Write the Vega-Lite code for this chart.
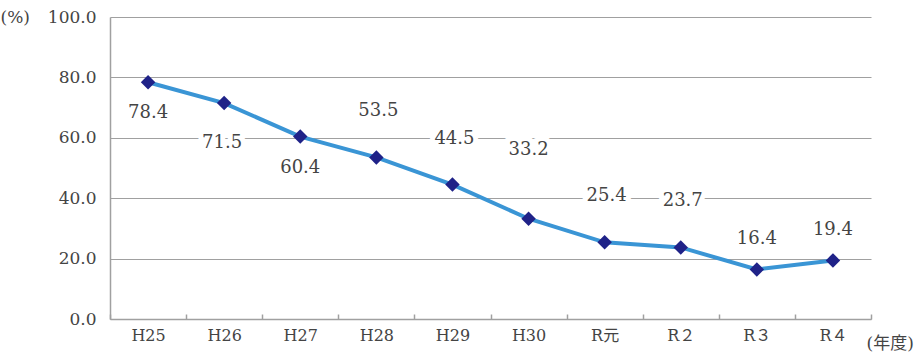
{
  "$schema": "https://vega.github.io/schema/vega-lite/v6.json",
  "width": 761,
  "height": 302,
  "autosize": {"type": "none"},
  "padding": {"left": 110, "top": 17, "right": 48, "bottom": 42},
  "background": "white",
  "config": {
    "view": {"stroke": null},
    "font": "'DejaVu Serif', 'Noto Sans CJK JP'",
    "text": {"font": "'DejaVu Serif', 'Noto Sans CJK JP'"}
  },
  "data": {
    "values": [
      {"year": "H25", "rate": 78.4, "place": "below"},
      {"year": "H26", "rate": 71.5, "place": "below2"},
      {"year": "H27", "rate": 60.4, "place": "below"},
      {"year": "H28", "rate": 53.5, "place": "above"},
      {"year": "H29", "rate": 44.5, "place": "above"},
      {"year": "H30", "rate": 33.2, "place": "above2"},
      {"year": "R元", "rate": 25.4, "place": "above"},
      {"year": "R２", "rate": 23.7, "place": "above"},
      {"year": "R３", "rate": 16.4, "place": "above3"},
      {"year": "R４", "rate": 19.4, "place": "above3"}
    ]
  },
  "encoding": {
    "x": {
      "field": "year", "type": "nominal",
      "sort": ["H25", "H26", "H27", "H28", "H29", "H30", "R元", "R２", "R３", "R４"],
      "scale": {"paddingInner": 0, "paddingOuter": 0},
      "axis": {
        "title": "(年度)", "titleFont": "'DejaVu Serif', 'Noto Sans CJK JP'", "titleFontSize": 17, "titleFontWeight": "normal",
        "titleColor": "#444", "titleAlign": "left", "titleBaseline": "middle", "titleAnchor": null,
        "titleX": 756, "titleY": 24,
        "labelAngle": 0, "labelFontSize": 16, "labelColor": "#444", "labelPadding": 13,
        "labelFont": "'DejaVu Serif', 'Noto Sans CJK JP'",
        "domainColor": "#a0a0a0", "domainWidth": 1.5,
        "tickBand": "extent", "tickSize": -5, "tickColor": "#a0a0a0", "tickWidth": 1.5,
        "grid": false
      }
    },
    "y": {
      "field": "rate", "type": "quantitative",
      "scale": {"domain": [0, 100], "nice": false},
      "axis": {
        "values": [0, 20, 40, 60, 80, 100], "format": ".1f",
        "title": "(%)", "titleAngle": 0, "titleAlign": "left", "titleBaseline": "middle",
        "titleX": -110, "titleY": 0, "titleFontSize": 17, "titleFontWeight": "normal", "titleColor": "#444",
        "titleFont": "'DejaVu Serif', 'Noto Sans CJK JP'",
        "labelFontSize": 17, "labelColor": "#444", "labelPadding": 14,
        "labelFont": "'DejaVu Serif'",
        "ticks": false, "domainColor": "#a0a0a0", "domainWidth": 1.5,
        "grid": true, "gridColor": "#a0a0a0", "gridWidth": 1.2
      }
    }
  },
  "layer": [
    {"transform": [{"filter": "datum.place == 'below'"}], "mark": {"type": "text", "dy": 31, "fontSize": 18, "stroke": "white", "strokeWidth": 10, "fill": "white"}, "encoding": {"text": {"field": "rate", "format": ".1f"}}},
    {"transform": [{"filter": "datum.place == 'below'"}], "mark": {"type": "text", "dy": 31, "fontSize": 18, "fill": "#444"}, "encoding": {"text": {"field": "rate", "format": ".1f"}}},
    {"transform": [{"filter": "datum.place == 'below2'"}], "mark": {"type": "text", "dy": 40, "dx": -2, "fontSize": 18, "stroke": "white", "strokeWidth": 10, "fill": "white"}, "encoding": {"text": {"field": "rate", "format": ".1f"}}},
    {"transform": [{"filter": "datum.place == 'below2'"}], "mark": {"type": "text", "dy": 40, "dx": -2, "fontSize": 18, "fill": "#444"}, "encoding": {"text": {"field": "rate", "format": ".1f"}}},
    {"transform": [{"filter": "datum.place == 'above'"}], "mark": {"type": "text", "dy": -46, "dx": 2, "fontSize": 18, "stroke": "white", "strokeWidth": 10, "fill": "white"}, "encoding": {"text": {"field": "rate", "format": ".1f"}}},
    {"transform": [{"filter": "datum.place == 'above'"}], "mark": {"type": "text", "dy": -46, "dx": 2, "fontSize": 18, "fill": "#444"}, "encoding": {"text": {"field": "rate", "format": ".1f"}}},
    {"transform": [{"filter": "datum.place == 'above2'"}], "mark": {"type": "text", "dy": -69, "fontSize": 18, "stroke": "white", "strokeWidth": 10, "fill": "white"}, "encoding": {"text": {"field": "rate", "format": ".1f"}}},
    {"transform": [{"filter": "datum.place == 'above2'"}], "mark": {"type": "text", "dy": -69, "fontSize": 18, "fill": "#444"}, "encoding": {"text": {"field": "rate", "format": ".1f"}}},
    {"transform": [{"filter": "datum.place == 'above3'"}], "mark": {"type": "text", "dy": -30, "fontSize": 18, "stroke": "white", "strokeWidth": 10, "fill": "white"}, "encoding": {"text": {"field": "rate", "format": ".1f"}}},
    {"transform": [{"filter": "datum.place == 'above3'"}], "mark": {"type": "text", "dy": -30, "fontSize": 18, "fill": "#444"}, "encoding": {"text": {"field": "rate", "format": ".1f"}}},
    {"mark": {"type": "line", "color": "#3a95d5", "strokeWidth": 4}},
    {"mark": {"type": "point", "shape": "diamond", "filled": true, "size": 210, "color": "#1f2288", "opacity": 1}}
  ]
}
